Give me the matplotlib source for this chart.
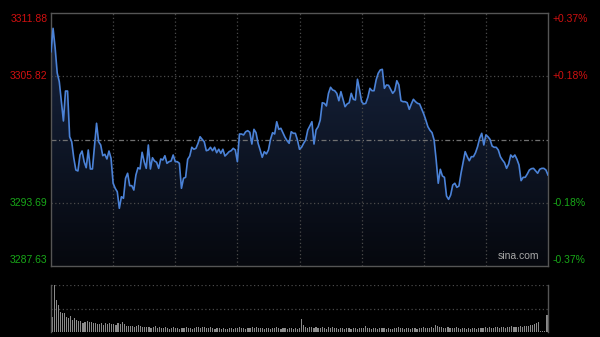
import numpy as np
import matplotlib
matplotlib.use("Agg")
import matplotlib.pyplot as plt
from matplotlib.patches import PathPatch
from matplotlib.path import Path

# ---------------- data ----------------
prev_close = 3299.75
y_ticks = [3311.88, 3305.82, 3293.69, 3287.63]
y_tick_labels = ["3311.88", "3305.82", "3293.69", "3287.63"]
pct_labels = ["+0.37%", "+0.18%", "-0.18%", "-0.37%"]

prices_a = [3308.17, 3310.41, 3308.53, 3306.13, 3305.30, 3303.38, 3301.53, 3304.40, 3304.40, 3300.02,
            3299.54, 3297.98, 3296.83, 3296.74, 3298.27, 3298.65, 3297.63, 3297.05, 3298.75, 3296.93,
            3296.93, 3299.07, 3301.31, 3299.54, 3299.23, 3298.20, 3298.34, 3297.89, 3298.65, 3297.95,
            3295.56, 3295.08, 3294.75, 3293.16, 3294.27, 3294.12, 3296.04, 3296.52, 3295.33, 3295.33,
            3294.91, 3296.35, 3297.05, 3296.93, 3298.53, 3297.63, 3296.99, 3299.23, 3296.93, 3298.01,
            3297.69, 3297.57, 3296.99, 3297.89, 3297.79, 3298.20, 3297.47, 3297.63, 3297.69, 3298.27]
prices_b = [3297.63, 3297.63, 3297.47, 3295.08, 3296.04, 3296.13, 3297.86, 3298.17, 3299.01, 3298.82,
            3298.91, 3299.39, 3300.02, 3299.77, 3299.54, 3298.68, 3298.75, 3299.01, 3298.68, 3299.01,
            3298.49, 3298.82, 3298.43, 3298.82, 3298.17, 3298.37, 3298.59, 3298.68, 3298.91, 3298.75,
            3297.63, 3300.28, 3300.28, 3300.19, 3300.50, 3300.60, 3300.45,
            3299.32, 3300.73, 3300.41,
            3299.39, 3298.75, 3298.05, 3298.59, 3298.37, 3298.75, 3299.77, 3300.41,
            3300.28, 3301.46, 3300.73, 3300.83, 3300.41, 3299.97, 3299.64, 3299.39, 3300.50, 3300.35]
prices_c = [3300.35, 3299.71, 3298.82, 3299.01, 3299.39, 3299.71, 3300.67, 3301.05, 3301.46, 3299.32,
            3300.67, 3300.98, 3301.62, 3303.28, 3303.22, 3302.97, 3304.18, 3304.76, 3304.50, 3304.43,
            3304.18, 3303.47, 3304.34, 3303.61, 3302.90, 3303.16, 3303.28, 3304.18, 3303.61, 3303.54,
            3305.53, 3304.50, 3303.38, 3303.16, 3303.22, 3303.80, 3304.66, 3304.43, 3304.43,
            3305.46, 3306.10, 3306.42, 3306.48, 3304.66, 3304.98, 3304.95, 3304.57, 3304.18, 3304.43,
            3305.39, 3304.98, 3303.47, 3303.38, 3303.38, 3303.28, 3302.65, 3303.16, 3303.61, 3303.38]
prices_d = [3303.22, 3303.16, 3302.68, 3302.20, 3301.62, 3300.98, 3300.64, 3300.41, 3299.71, 3297.79,
            3295.56, 3296.90, 3296.26, 3296.13, 3294.34, 3294.02, 3294.44, 3295.39, 3295.56, 3295.17,
            3295.30, 3296.52, 3297.53, 3298.59, 3298.11, 3297.72, 3298.11, 3298.11, 3298.49, 3299.07,
            3299.87, 3300.35, 3299.23, 3300.19, 3300.02, 3299.77, 3299.13, 3299.01, 3299.01, 3298.75,
            3298.11, 3297.79,
            3297.53, 3296.99, 3297.41, 3298.27, 3298.05, 3298.27, 3297.86,
            3297.31, 3295.81, 3296.13, 3296.13, 3296.45, 3296.83, 3296.96, 3296.99, 3296.76, 3296.52,
            3296.90, 3296.99, 3296.99, 3296.83, 3296.35]
prices = np.array(prices_a + prices_b + prices_c + prices_d)

volume = ([15, 47, 32, 27, 20, 19, 19, 15, 14, 16, 12, 14, 12, 11, 11, 9, 10, 11, 10, 10,
           9, 9, 8, 8, 9, 7, 9, 8, 9, 8, 8, 7, 9, 8, 10, 8, 6, 6, 6, 6, 5, 6, 7, 6, 5, 5, 5]
          + [5, 4, 5, 6, 4, 5, 4, 4, 5, 4, 3, 4, 5, 4]
          + [4, 3, 4, 4, 5, 4, 4, 3, 4, 5, 5, 4, 5, 5, 4, 4, 5, 4, 3, 4]
          + [4, 3, 4, 3, 3, 4, 4, 3, 4, 4, 5, 4, 4, 3, 4, 4, 5, 4, 5, 4]
          + [4, 4, 3, 4, 4, 3, 4, 4, 5, 4, 3, 4, 4, 3, 4, 4, 3, 4, 3, 4]
          + [13, 7, 5, 4, 5]
          + [5, 4, 5, 4, 4, 5, 4, 3, 5, 4, 5, 4, 4, 3, 4, 4, 3, 4, 4, 3, 4, 4, 3, 4, 4]
          + [4, 6, 4]
          + [4, 3, 4, 4, 3, 4, 4, 4, 3, 4, 3, 3, 4, 4, 5, 4, 4, 3, 4, 4, 3, 4, 4, 3, 4, 4, 5, 4, 4, 4, 5, 4]
          + [7, 6, 5, 5, 4]
          + [4, 5, 4, 4, 4, 5, 4, 3, 4, 4, 3, 4, 3, 4, 4, 3, 4, 4, 4, 5, 4, 5, 4, 4, 5, 5, 4, 5, 5, 4, 5, 5, 6, 5, 5]
          + [5, 6, 5, 6, 6, 6, 7, 7, 8, 9, 10, 1, 1, 1, 17])
volume = np.array(volume, dtype=float)

n_minutes = 240
x = np.arange(len(prices))
xv = np.arange(len(volume))

# ---------------- style ----------------
BG = "#000000"
FRAME = "#555555"
GRID = "#4a4a4a"
RED = "#d01010"
GREEN = "#18a818"
LINE = "#4b82d7"

fig = plt.figure(figsize=(6.0, 3.37), dpi=100, facecolor=BG)
ax = fig.add_axes([51 / 600, 71 / 337, 497 / 600, 253 / 337], facecolor=BG)
axv = fig.add_axes([51 / 600, 5 / 337, 497 / 600, 47 / 337], facecolor=BG)

ymin, ymax = y_ticks[-1], y_ticks[0]
ax.set_xlim(0, n_minutes)
ax.set_ylim(ymin, ymax)

# gradient fill under the line
verts = [(x[0], ymin)] + list(zip(x, prices)) + [(x[-1], ymin)]
path = Path(verts)
patch = PathPatch(path, facecolor="none", edgecolor="none")
ax.add_patch(patch)
grad = np.linspace(1, 0, 256).reshape(-1, 1)
top_c = np.array([24, 38, 66]) / 255.0
bot_c = np.array([6, 8, 14]) / 255.0
img = bot_c + (top_c - bot_c) * grad[..., None]
img = img.reshape(256, 1, 3)
im = ax.imshow(img, extent=[0, n_minutes, ymin, ymax], aspect="auto", origin="upper", zorder=1)
im.set_clip_path(patch)

# grid lines
for yv in (y_ticks[1], y_ticks[2]):
    ax.axhline(yv, color=GRID, lw=0.9, ls=(0, (1, 2)), zorder=2)
ax.axhline(prev_close, color="#707070", lw=0.9, ls=(0, (4, 2, 1, 2)), zorder=2)
for k in range(1, 8):
    ax.axvline(k * 30, color=GRID, lw=0.9, ls=(0, (1, 2)), zorder=2)

ax.plot(x, prices, color=LINE, lw=1.2, zorder=3)

for s in ax.spines.values():
    s.set_color(FRAME)
    s.set_linewidth(1.0)
ax.set_xticks([])
ax.set_yticks([])

# labels
font = dict(family=["Liberation Sans", "DejaVu Sans"], fontsize=7.5)
offsets = [-6, 0, 0, 6]
colors = [RED, RED, GREEN, GREEN]
for yv, lab, pl, off, c in zip(y_ticks, y_tick_labels, pct_labels, offsets, colors):
    ax.annotate(lab, xy=(0, yv), xycoords=("axes fraction", "data"),
                xytext=(-2.4, off * 0.72), textcoords="offset points",
                ha="right", va="center", color=c, **font)
    ax.annotate(pl, xy=(1, yv), xycoords=("axes fraction", "data"),
                xytext=(3.6, off * 0.72), textcoords="offset points",
                ha="left", va="center", color=c, **font)

ax.text(0.94, 0.018, "sina.com", transform=ax.transAxes, ha="center", va="bottom",
        color="#a8a8a8", **font)

# volume panel
axv.set_xlim(-0.5, n_minutes + 0.5)
axv.set_ylim(0, 47)
axv.bar(xv, volume, width=0.55, color="#8a8a8a", linewidth=0, zorder=2)
axv.axhline(47, color=GRID, lw=0.9, ls=(0, (1, 2)), zorder=1)
axv.axhline(23.5, color=GRID, lw=0.9, ls=(0, (1, 2)), zorder=1)
for side in ("top", "bottom"):
    axv.spines[side].set_visible(False)
for side in ("left", "right"):
    axv.spines[side].set_color(FRAME)
    axv.spines[side].set_linewidth(1.0)
axv.set_xticks([])
axv.set_yticks([])

fig.savefig("out.png", dpi=100, facecolor=BG)
